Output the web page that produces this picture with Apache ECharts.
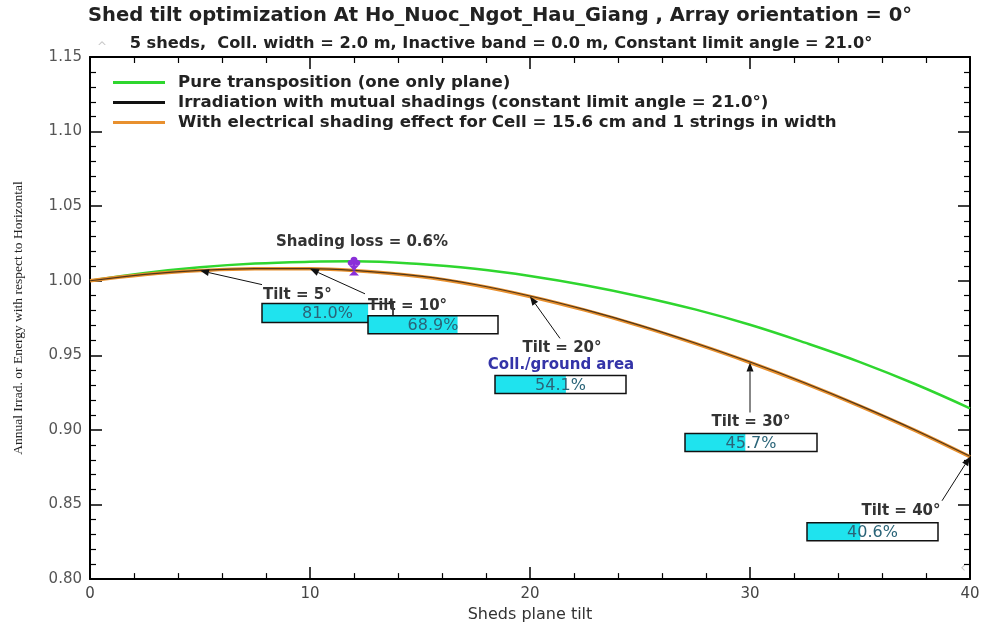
<!DOCTYPE html>
<html><head><meta charset="utf-8">
<script src="https://cdn.jsdelivr.net/npm/echarts@6/dist/echarts.min.js"></script>
<style>html,body{margin:0;padding:0;background:#fff}#c{width:984px;height:628px}</style>
</head><body><div id="c"></div>
<script>
// ---- data ----
const tilts              = [0, 2.5, 5, 7.5, 10, 12, 15, 17.5, 20, 22.5, 25, 27.5, 30, 32.5, 35, 37.5, 40];
const pureTransposition  = [1.0000, 1.0052, 1.0090, 1.0115, 1.0127, 1.0130, 1.0112, 1.0080, 1.0032, 0.9970, 0.9895, 0.9808, 0.9705, 0.9585, 0.9455, 0.9308, 0.9145];
const mutualShadings     = [1.0000, 1.0043, 1.0070, 1.0082, 1.0082, 1.0070, 1.0031, 0.9975, 0.9898, 0.9806, 0.9701, 0.9583, 0.9455, 0.9315, 0.9163, 0.9000, 0.8823];
const electricalShading  = [1.0000, 1.0042, 1.0068, 1.0080, 1.0080, 1.0068, 1.0029, 0.9972, 0.9895, 0.9803, 0.9698, 0.9580, 0.9452, 0.9312, 0.9160, 0.8997, 0.8820];
const annotTilts         = [5, 10, 20, 30, 40];
const collGroundPct      = [81.0, 68.9, 54.1, 45.7, 40.6];
const lossTilt           = 12;
const shadingLossPct     = 0.6;
const xTickLabels        = ['0', '10', '20', '30', '40'];
const yTickLabels        = ['0.80', '0.85', '0.90', '0.95', '1.00', '1.05', '1.10', '1.15'];
const seriesNames = [
  'Pure transposition (one only plane)',
  'Irradiation with mutual shadings (constant limit angle = 21.0°)',
  'With electrical shading effect for Cell = 15.6 cm and 1 strings in width'
];
const titleText = 'Shed tilt optimization At Ho_Nuoc_Ngot_Hau_Giang , Array orientation = 0°';
const subTitleText = '5 sheds,  Coll. width = 2.0 m, Inactive band = 0.0 m, Constant limit angle = 21.0°';

// ---- layout of the annotations (pixel offsets from the pointed curve point) ----
const annotLayout = [
  {tail:[62,14],  label:[63,24,'left'],  box:[62,33,131,19]},
  {tail:[55,25],  label:[58,37,'left'],  box:[58,47,130,18]},
  {tail:[30,42],  label:[32,52,'center'], coll:[31,69], box:[-35,79,131,18]},
  {tail:[0,50],   label:[1,60,'center'],  box:[-65,71,132,18]},
  {tail:[-28,44], label:[-69,54,'center'], box:[-163,66,131,18]}
];

const pairs = arr => tilts.map((t, i) => [t, arr[i]]);
const valAt = (arr, t) => arr[tilts.indexOf(t)];

const annotData = annotTilts.map((t, i) => [t, valAt(electricalShading, t), collGroundPct[i], i]);
const lossData = [[lossTilt, valAt(pureTransposition, lossTilt), valAt(electricalShading, lossTilt), shadingLossPct]];

const chart = echarts.init(document.getElementById('c'), null, {renderer: 'canvas'});

const axisCommon = {
  type: 'value',
  axisLine: {show: true, onZero: false, lineStyle: {color: '#000', width: 2}},
  axisTick: {show: true, inside: true, length: 12, lineStyle: {color: '#000', width: 1.5}},
  minorTick: {show: true, splitNumber: 5, length: 6, lineStyle: {color: '#000', width: 1.2}},
  splitLine: {show: false},
  minorSplitLine: {show: false}
};

function renderAnnot(params, api) {
  const i = api.value(3);
  const L = annotLayout[i];
  const head = api.coord([api.value(0), api.value(1)]);
  const tail = [head[0] + L.tail[0], head[1] + L.tail[1]];
  const ang = Math.atan2(head[1] - tail[1], head[0] - tail[0]);
  const len = 9, w = 3.5;
  const bx = head[0] - len * Math.cos(ang), by = head[1] - len * Math.sin(ang);
  const pct = api.value(2);
  const x0 = head[0] + L.box[0], y0 = head[1] + L.box[1], bw = L.box[2], bh = L.box[3];
  const children = [
    {type: 'line', shape: {x1: tail[0], y1: tail[1], x2: bx, y2: by}, style: {stroke: '#111', lineWidth: 1}},
    {type: 'polygon', shape: {points: [[head[0], head[1]], [bx - w * Math.sin(ang), by + w * Math.cos(ang)], [bx + w * Math.sin(ang), by - w * Math.cos(ang)]]}, style: {fill: '#111'}},
    {type: 'rect', shape: {x: x0, y: y0, width: bw, height: bh}, style: {fill: '#fff'}},
    {type: 'rect', shape: {x: x0, y: y0, width: bw * pct / 100, height: bh}, style: {fill: '#1fe3ee'}},
    {type: 'rect', shape: {x: x0, y: y0, width: bw, height: bh}, style: {fill: 'none', stroke: '#111', lineWidth: 1.5}},
    {type: 'text', x: x0 + bw / 2, y: y0 + bh / 2 + 1, style: {text: pct.toFixed(1) + '%', align: 'center', verticalAlign: 'middle', font: '16px "DejaVu Sans"', fill: '#2a6478'}},
    {type: 'text', x: head[0] + L.label[0], y: head[1] + L.label[1], style: {text: 'Tilt = ' + api.value(0) + '°', align: L.label[2], verticalAlign: 'middle', font: 'bold 15px "DejaVu Sans"', fill: '#333'}}
  ];
  if (L.coll) {
    children.push({type: 'text', x: head[0] + L.coll[0], y: head[1] + L.coll[1], style: {text: 'Coll./ground area', align: 'center', verticalAlign: 'middle', font: 'bold 15px "DejaVu Sans"', fill: '#3434a8'}});
  }
  return {type: 'group', children};
}

function renderLoss(params, api) {
  const top = api.coord([api.value(0), api.value(1)]);
  const bot = api.coord([api.value(0), api.value(2)]);
  const c = '#8a2fd8';
  return {type: 'group', children: [
    {type: 'line', shape: {x1: top[0], y1: top[1], x2: bot[0], y2: bot[1]}, style: {stroke: c, lineWidth: 3}},
    {type: 'circle', shape: {cx: top[0], cy: top[1] - 1, r: 3.5}, style: {fill: c}},
    {type: 'circle', shape: {cx: top[0] - 3.5, cy: top[1] + 1.5, r: 2.8}, style: {fill: c}},
    {type: 'circle', shape: {cx: top[0] + 3.5, cy: top[1] + 1.5, r: 2.8}, style: {fill: c}},
    {type: 'polygon', shape: {points: [[bot[0] - 5, bot[1] - 5], [bot[0] + 5, bot[1] - 5], [bot[0] - 5, bot[1] + 5], [bot[0] + 5, bot[1] + 5]]}, style: {fill: c}},
    {type: 'text', x: top[0] + 8, y: top[1] - 19, style: {text: 'Shading loss = ' + api.value(3).toFixed(1) + '%', align: 'center', verticalAlign: 'middle', font: 'bold 15px "DejaVu Sans"', fill: '#333'}}
  ]};
}

chart.setOption({
  animation: false,
  backgroundColor: '#fff',
  grid: {left: 90, right: 14, top: 57, bottom: 48, containLabel: false},
  graphic: [
    {type: 'text', x: 500, y: 16, style: {text: titleText, align: 'center', verticalAlign: 'middle', font: 'bold 19.5px "DejaVu Sans"', fill: '#222'}},
    {type: 'text', x: 501, y: 44, style: {text: subTitleText, align: 'center', verticalAlign: 'middle', font: 'bold 16.2px "DejaVu Sans"', fill: '#222'}},
    {type: 'text', x: 102, y: 48, style: {text: '^', align: 'center', verticalAlign: 'middle', font: '12px "DejaVu Sans"', fill: '#c8c8c8'}},
    {type: 'text', x: 963, y: 568, style: {text: '‹', align: 'center', verticalAlign: 'middle', font: '14px "DejaVu Sans"', fill: '#c8c8c8'}}
  ],
  legend: {
    orient: 'vertical', left: 113, top: 73, padding: 0,
    data: seriesNames,
    icon: 'rect', itemWidth: 52, itemHeight: 3, itemGap: 1,
    selectedMode: false,
    textStyle: {fontFamily: 'DejaVu Sans', fontWeight: 'bold', fontSize: 16.6, color: '#222', lineHeight: 19, padding: [0, 0, 0, 8]}
  },
  xAxis: [
    Object.assign({}, axisCommon, {
      position: 'bottom', min: 0, max: 40, interval: 10,
      axisLabel: {show: true, margin: 8, color: '#444', fontFamily: 'DejaVu Sans', fontSize: 15, formatter: v => xTickLabels[Math.round(v / 10)] ?? ''},
      name: 'Sheds plane tilt', nameLocation: 'middle', nameGap: 25,
      nameTextStyle: {fontFamily: 'DejaVu Sans', fontSize: 16, color: '#333'}
    }),
    Object.assign({}, axisCommon, {position: 'top', min: 0, max: 40, interval: 10, axisLabel: {show: false}})
  ],
  yAxis: [
    Object.assign({}, axisCommon, {
      position: 'left', min: 0.80, max: 1.15, interval: 0.05,
      axisLabel: {show: true, margin: 8, color: '#555', fontFamily: 'DejaVu Sans', fontSize: 15, formatter: v => yTickLabels[Math.round((v - 0.80) / 0.05)] ?? ''},
      name: 'Annual Irrad. or Energy with respect to Horizontal', nameLocation: 'middle', nameGap: 65, nameRotate: 90,
      nameTextStyle: {fontFamily: 'Liberation Serif', fontSize: 13.5, color: '#222'}
    }),
    Object.assign({}, axisCommon, {position: 'right', min: 0.80, max: 1.15, interval: 0.05, axisLabel: {show: false}})
  ],
  series: [
    {name: seriesNames[0], type: 'line', data: pairs(pureTransposition), smooth: 0.4, showSymbol: false, z: 2,
      lineStyle: {color: '#2fd62f', width: 2.5}, itemStyle: {color: '#2fd62f'}},
    {name: seriesNames[2], type: 'line', data: pairs(electricalShading), smooth: 0.4, showSymbol: false, z: 3,
      lineStyle: {color: '#e8902e', width: 3.5}, itemStyle: {color: '#e8902e'}},
    {name: seriesNames[1], type: 'line', data: pairs(mutualShadings), smooth: 0.4, showSymbol: false, z: 4,
      lineStyle: {color: '#111', width: 1.2, opacity: 0.7}, itemStyle: {color: '#111'}},
    {type: 'custom', data: annotData, renderItem: renderAnnot, clip: false, z: 10, silent: true, encode: {x: 0, y: 1}},
    {type: 'custom', data: lossData, renderItem: renderLoss, clip: false, z: 11, silent: true, encode: {x: 0, y: 1}}
  ]
});
</script></body></html>
